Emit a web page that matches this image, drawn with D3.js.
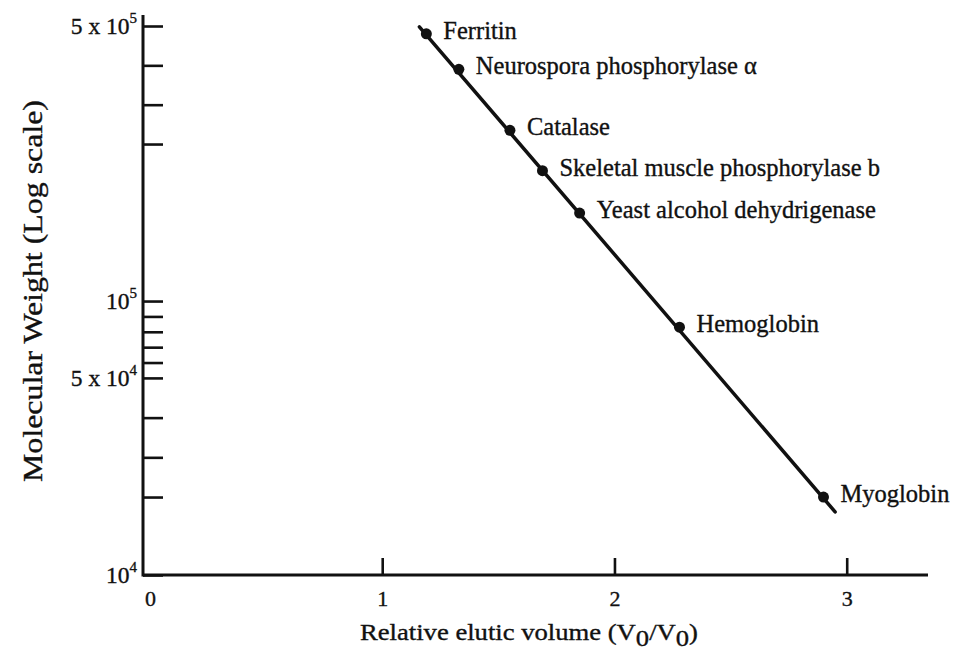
<!DOCTYPE html>
<html>
<head>
<meta charset="utf-8">
<script src="https://cdn.jsdelivr.net/npm/d3@7"></script>
<style>
  html, body { margin: 0; background: #fff; }
  svg { display: block; }
  text { font-family: "Liberation Serif", "Times New Roman", serif; fill: #111; stroke: #111; stroke-width: 0.35px; }
</style>
</head>
<body>
<svg id="chart" width="956" height="658"></svg>
<script>
// Gel-filtration calibration: molecular weight vs. relative elution volume
const proteins = [
  "Ferritin",
  "Neurospora phosphorylase \u03b1",
  "Catalase",
  "Skeletal muscle phosphorylase b",
  "Yeast alcohol dehydrigenase",
  "Hemoglobin",
  "Myoglobin"
];
const elutionVolume   = [1.19, 1.33, 1.55, 1.69, 1.85, 2.28, 2.90];
const molecularWeight = [480000, 390000, 235000, 183000, 156000, 83000, 20000];

// calibration line end points
const fitVolume = [1.16, 2.95];
const fitWeight = [498000, 18100];

const xTickValues = [0, 1, 2, 3];
const yTickValues = [1e4, 2e4, 3e4, 4e4, 5e4, 6e4, 7e4, 8e4, 9e4, 1e5, 2e5, 3e5, 4e5, 5e5];
const yLabelValues   = [1e4, 5e4, 1e5, 5e5];
const yLabelMantissa = ["", "5 x ", "", "5 x "];
const yLabelExponent = ["4", "4", "5", "5"];

const svg = d3.select("#chart");
const plotLeft = 143, plotRight = 928, plotTop = 26, plotBottom = 575;

const x = d3.scaleLinear().domain([-0.03, 3.35]).range([plotLeft, plotRight]);

// the printed axis is graduated in segments; knots at the printed decade marks
const yKnots = [1e4, 2e4, 5e4, 1e5, 2e5, 5e5];
const yKnotFrac = [0, 0.142, 0.359, 0.499, 0.785, 1];
const y = d3.scaleLinear()
  .domain(yKnots)
  .range(yKnotFrac.map(f => plotBottom - f * (plotBottom - plotTop)));

// ---- axes ----
const ink = "#111";

// x axis
const gx = svg.append("g").attr("transform", `translate(0,${plotBottom})`);
gx.call(d3.axisBottom(x).tickValues(xTickValues).tickFormat(d3.format("d"))
    .tickSizeInner(-17).tickSizeOuter(0).tickPadding(15));
gx.select(".domain").remove();
gx.selectAll(".tick line").attr("stroke", ink).attr("stroke-width", 2.6)
  .filter(d => d === 0).remove();
gx.selectAll(".tick text").attr("font-size", 22).attr("fill", ink)
  .style("font-family", '"Liberation Serif", serif');
svg.append("line").attr("x1", plotLeft).attr("x2", plotRight)
  .attr("y1", plotBottom).attr("y2", plotBottom)
  .attr("stroke", ink).attr("stroke-width", 3);

// y axis
const gy = svg.append("g").attr("transform", `translate(${plotLeft},0)`);
gy.call(d3.axisRight(y).tickValues(yTickValues).tickFormat("")
    .tickSizeInner(20).tickSizeOuter(0));
gy.select(".domain").remove();
gy.selectAll(".tick line").attr("stroke", ink).attr("stroke-width", 2.6);
svg.append("line").attr("x1", plotLeft).attr("x2", plotLeft)
  .attr("y1", plotTop - 11).attr("y2", plotBottom + 1.5)
  .attr("stroke", ink).attr("stroke-width", 3);

// y tick labels with superscript exponents
const yLab = svg.append("g");
yLabelValues.forEach((v, i) => {
  const t = yLab.append("text")
    .attr("x", plotLeft - 6).attr("y", y(v) + 8)
    .attr("text-anchor", "end").attr("font-size", 23.5);
  t.append("tspan").text(yLabelMantissa[i] + "10");
  t.append("tspan").attr("dy", -11).attr("font-size", 15).text(yLabelExponent[i]);
});

// axis titles
const xt = svg.append("text")
  .attr("x", 529).attr("y", 640)
  .attr("text-anchor", "middle").attr("font-size", 23)
  .attr("textLength", 338).attr("lengthAdjust", "spacingAndGlyphs");
xt.append("tspan").text("Relative elutic volume (V");
xt.append("tspan").attr("dy", 6).text("0");
xt.append("tspan").attr("dy", -6).text("/V");
xt.append("tspan").attr("dy", 6).text("0");
xt.append("tspan").attr("dy", -6).text(")");

svg.append("text")
  .attr("transform", "translate(42,291) rotate(-90)")
  .attr("text-anchor", "middle").attr("font-size", 27)
  .attr("textLength", 382).attr("lengthAdjust", "spacingAndGlyphs")
  .text("Molecular Weight (Log scale)");

// ---- calibration line ----
const line = d3.line().x(d => x(d[0])).y(d => y(d[1]));
svg.append("path")
  .datum(fitVolume.map((v, i) => [v, fitWeight[i]]))
  .attr("d", line)
  .attr("fill", "none").attr("stroke", ink).attr("stroke-width", 3.5)
  .attr("stroke-linecap", "round");

// ---- proteins ----
const pts = proteins.map((name, i) => ({ name, v: elutionVolume[i], mw: molecularWeight[i] }));
const g = svg.append("g").selectAll("g").data(pts).join("g")
  .attr("transform", d => `translate(${x(d.v)},${y(d.mw)})`);
g.append("circle").attr("r", 5.5).attr("fill", ink);
g.append("text")
  .attr("x", 17).attr("y", 5)
  .attr("font-size", 24.5)
  .text(d => d.name);
</script>
</body>
</html>
